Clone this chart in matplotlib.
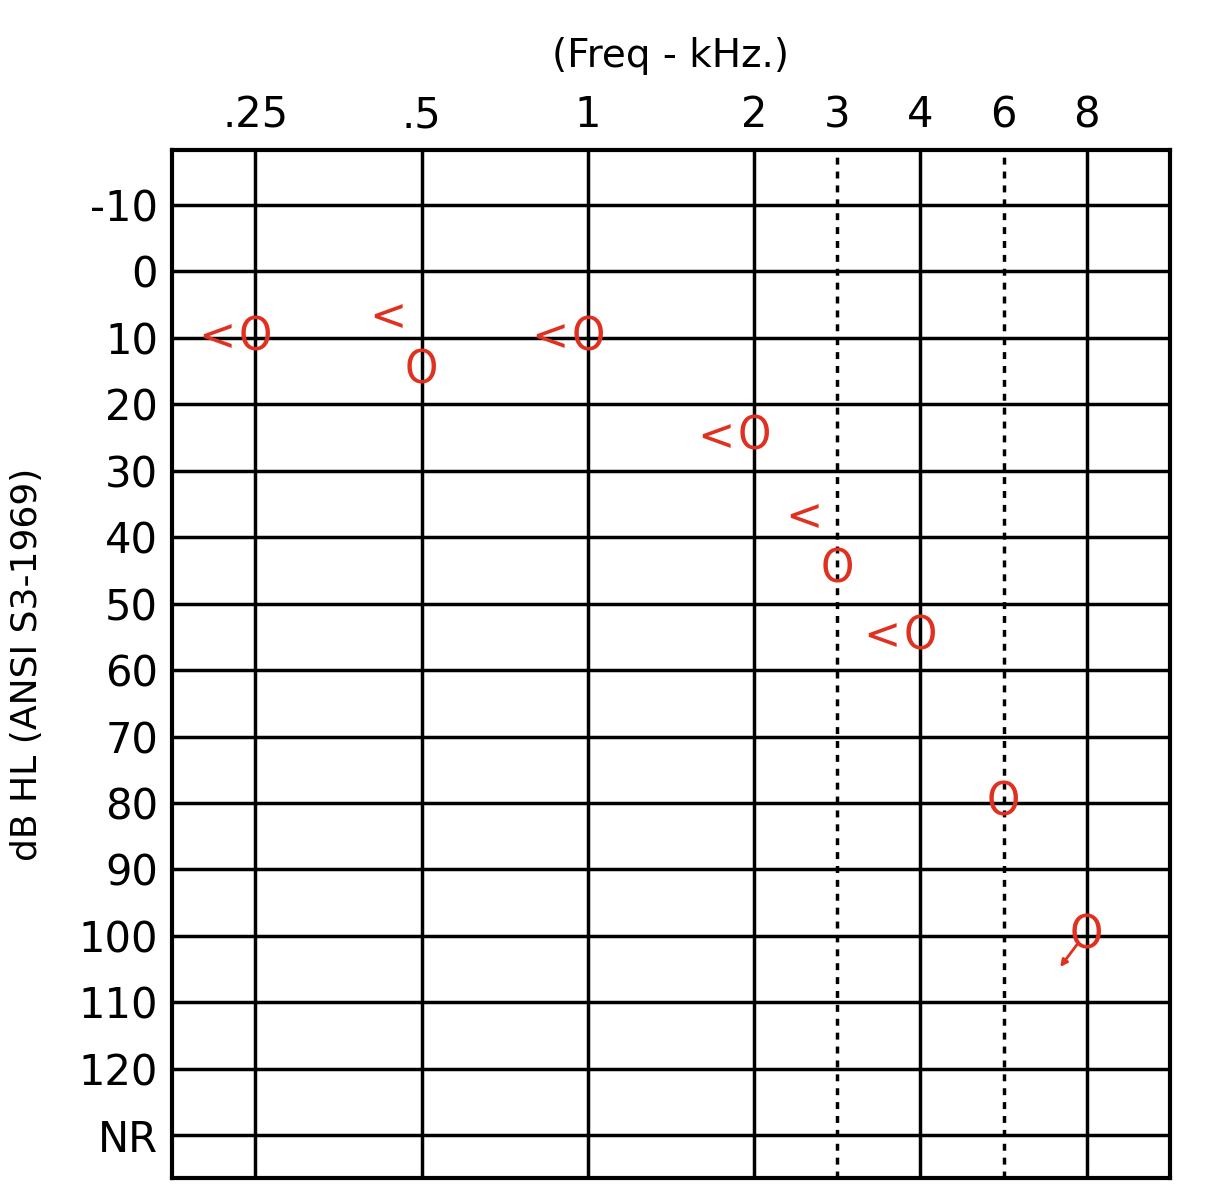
import matplotlib
matplotlib.use("Agg")
import matplotlib.pyplot as plt

freq_labels = [".25", ".5", "1", "2", "3", "4", "6", "8"]
freq_pos = [0, 1, 2, 3, 3.5, 4, 4.5, 5]
dashed = [False, False, False, False, True, False, True, False]
y_ticks = [-10, 0, 10, 20, 30, 40, 50, 60, 70, 80, 90, 100, 110, 120, 130]
y_labels = ["-10", "0", "10", "20", "30", "40", "50", "60", "70", "80", "90", "100", "110", "120", "NR"]

air_x = [0, 1, 2, 3, 3.5, 4, 4.5, 5]
air_y = [10, 15, 10, 25, 45, 55, 80, 100]
bone_x = [0, 1, 2, 3, 3.5, 4]
bone_y = [10, 10, 10, 25, 40, 55]

fig = plt.figure(figsize=(12.14, 12), dpi=100)
ax = fig.add_axes([0.1417, 0.0183, 0.822, 0.8567])
ax.set_xlim(-0.5, 5.5)
ax.set_ylim(136.4, -18.2)
for x, d in zip(freq_pos, dashed):
    ax.axvline(x, color="black", lw=2.5, ls=(0, (2, 2)) if d else "-")
for y in y_ticks:
    ax.axhline(y, color="black", lw=2.5)
for s in ax.spines.values():
    s.set_linewidth(3)
ax.set_xticks(freq_pos)
ax.set_xticklabels(freq_labels, fontsize=30)
ax.xaxis.tick_top()
ax.set_yticks(y_ticks)
ax.set_yticklabels(y_labels, fontsize=30)
ax.tick_params(length=0, pad=10)
ax.set_title("(Freq - kHz.)", fontsize=28, pad=60)
ax.set_ylabel("dB HL (ANSI S3-1969)", fontsize=26, labelpad=25)

for x, y in zip(air_x, air_y):
    ax.text(x, y, "O", color="#e03020", fontsize=34, ha="center", va="center",
            fontstretch="condensed")
for x, y in zip(bone_x, bone_y):
    up = x in (1, 3.5)
    ax.text(x - (0.2 if up else 0.23), y - (3 if up else 0), "<", color="#e03020",
            fontsize=32, ha="center", va="center")
ax.annotate("", xy=(5 - 0.17, 105), xytext=(5 - 0.05, 101),
            arrowprops=dict(arrowstyle="-|>", color="#e03020", lw=2))
fig.savefig("out.png", dpi=100)
